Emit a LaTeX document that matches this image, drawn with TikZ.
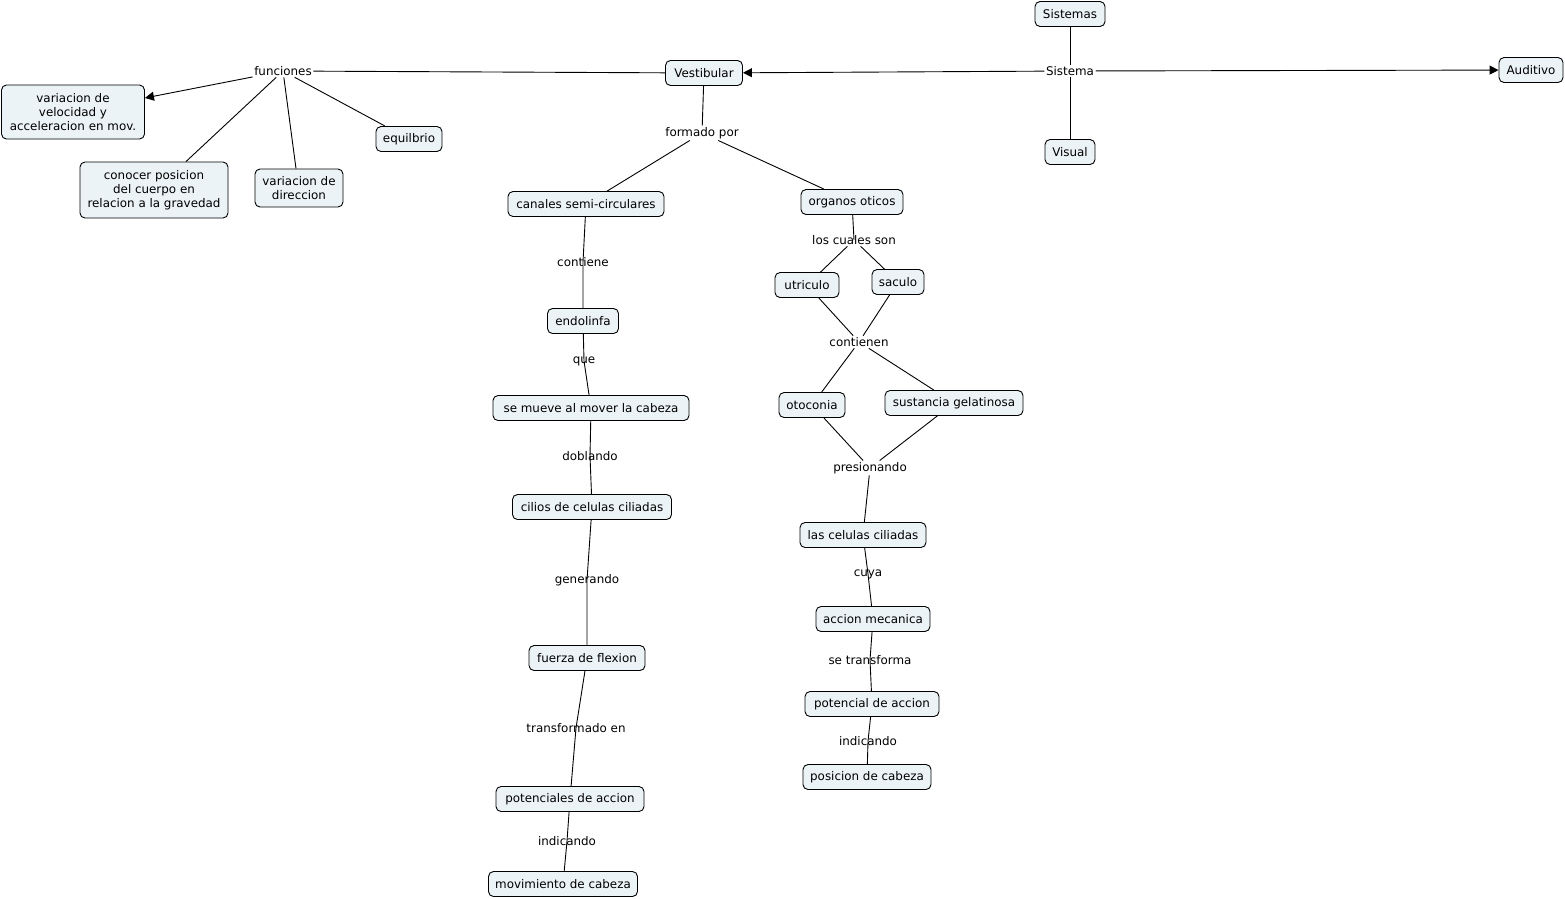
\documentclass[tikz,border=0pt]{standalone}
\usepackage{fontspec}
\setmainfont{DejaVu Sans}
\usetikzlibrary{arrows.meta,calc}
\definecolor{boxfill}{RGB}{236,243,246}
\tikzset{
  box/.style={draw=black, line width=0.9pt, rounded corners=5pt, fill=boxfill,
    minimum height=25pt, inner sep=2pt, align=center, font=\fontsize{11.9}{14}\selectfont},
  lab/.style={inner sep=1.5pt, font=\fontsize{11.9}{14}\selectfont},
  conn/.style={line width=0.9pt, draw=black},
  arr/.style={conn, -{Triangle[length=9pt,width=9pt]}}
}
\begin{document}
\begin{tikzpicture}[x=1pt,y=-1pt]
\useasboundingbox (0,0) rectangle (1565,898);
% top system
\node[box, minimum width=70] (sistemas) at (1070,14) {Sistemas};
\node[lab] (sistema) at (1070,71) {Sistema};
\node[box, minimum width=50] (visual) at (1070,152) {Visual};
\node[box, minimum width=64] (auditivo) at (1531,70) {Auditivo};
\node[box, minimum width=77] (vest) at (704,73) {Vestibular};
% funciones
\node[lab] (func) at (283,71) {funciones};
\node[box, minimum width=143, minimum height=54] (velo) at (73,112) {variacion de\\velocidad y\\acceleracion en mov.};
\node[box, minimum width=148, minimum height=56] (cono) at (154,190) {conocer posicion\\del cuerpo en\\relacion a la gravedad};
\node[box, minimum width=88, minimum height=38] (dire) at (299,188) {variacion de\\direccion};
\node[box, minimum width=66] (equi) at (409,139) {equilbrio};
% formado por
\node[lab] (form) at (702,133) {formado por};
\node[box, minimum width=156] (cana) at (586,204) {canales semi-circulares};
\node[box, minimum width=102] (orga) at (852,202) {organos oticos};
% left chain
\node[lab] (cont) at (583,262) {contiene};
\node[box, minimum width=71] (endo) at (583,321) {endolinfa};
\node[lab] (que) at (584,361) {que};
\node[box, minimum width=196] (mueve) at (591,408) {se mueve al mover la cabeza};
\node[lab] (dobl) at (590,456) {doblando};
\node[box, minimum width=159] (cili) at (592,507) {cilios de celulas ciliadas};
\node[lab] (gene) at (587,580) {generando};
\node[box, minimum width=116] (fuer) at (587,658) {fuerza de flexion};
\node[lab] (tran) at (576,728) {transformado en};
\node[box, minimum width=148] (pote) at (570,799) {potenciales de accion};
\node[lab] (indi) at (567,841) {indicando};
\node[box, minimum width=149] (movi) at (563,884) {movimiento de cabeza};
% right chain
\node[lab] (cual) at (854,240) {los cuales son};
\node[box, minimum width=64] (utri) at (807,285) {utriculo};
\node[box, minimum width=52] (sacu) at (898,282) {saculo};
\node[lab] (cnen) at (859,342) {contienen};
\node[box, minimum width=66] (otoc) at (812,405) {otoconia};
\node[box, minimum width=138] (sust) at (954,403) {sustancia gelatinosa};
\node[lab] (pres) at (870,468) {presionando};
\node[box, minimum width=126] (cels) at (863,535) {las celulas ciliadas};
\node[lab] (cuya) at (868,574) {cuya};
\node[box, minimum width=114] (acci) at (873,619) {accion mecanica};
\node[lab] (setr) at (870,660) {se transforma};
\node[box, minimum width=134] (potc) at (872,704) {potencial de accion};
\node[lab] (ind2) at (868,741) {indicando};
\node[box, minimum width=128] (posi) at (867,777) {posicion de cabeza};
% connectors
\draw[conn] (sistemas) -- (sistema);
\draw[conn] (sistema) -- (visual);
\draw[arr] (sistema) -- (vest);
\draw[arr] (sistema) -- (auditivo);
\draw[conn] (vest) -- (func);
\draw[arr] (func) -- (velo);
\draw[conn] (func) -- ($(cono.north)+(32,0)$);
\draw[conn] (func) -- ($(dire.north)+(-3,0)$);
\draw[conn] (func) -- (equi);
\draw[conn] (vest) -- (form);
\draw[conn] (form) -- (cana);
\draw[conn] (form) -- (orga);
\draw[conn] (cana) -- (cont.center) -- (endo);
\draw[conn] (endo) -- (que.center) -- (mueve);
\draw[conn] (mueve) -- (dobl.center) -- (cili);
\draw[conn] (cili) -- (gene.center) -- (fuer);
\draw[conn] (fuer) -- (tran.center) -- (pote);
\draw[conn] (pote) -- (indi.center) -- (movi);
\draw[conn] (orga) -- (cual.center);
\draw[conn] (cual) -- (utri);
\draw[conn] (cual) -- (sacu);
\draw[conn] (utri) -- (cnen);
\draw[conn] (sacu) -- (cnen);
\draw[conn] (cnen) -- (otoc);
\draw[conn] (cnen) -- (sust);
\draw[conn] (otoc) -- (pres);
\draw[conn] (sust) -- (pres);
\draw[conn] (pres) -- (cels);
\draw[conn] (cels) -- (cuya.center) -- (acci);
\draw[conn] (acci) -- (setr.center) -- (potc);
\draw[conn] (potc) -- (ind2.center) -- (posi);
\end{tikzpicture}
\end{document}
